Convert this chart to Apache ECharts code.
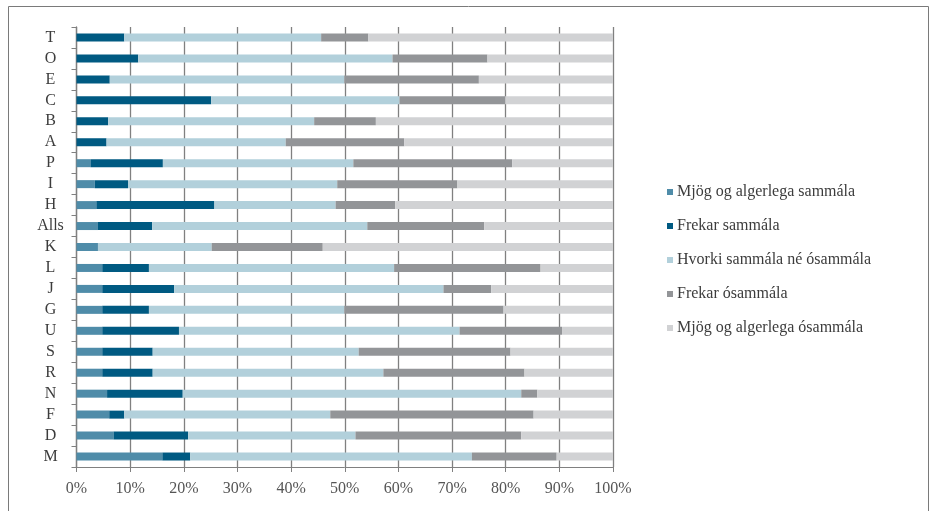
<!DOCTYPE html>
<html>
<head>
<meta charset="utf-8">
<script src="https://cdn.jsdelivr.net/npm/echarts@6/dist/echarts.min.js"></script>
<style>
  html, body { margin: 0; padding: 0; background: #fff; }
  #chart { width: 931px; height: 511px; }
</style>
</head>
<body>
<div id="chart"></div>
<script>
// Categories, listed top to bottom
const categories = ['T', 'O', 'E', 'C', 'B', 'A', 'P', 'I', 'H', 'Alls', 'K', 'L', 'J', 'G', 'U', 'S', 'R', 'N', 'F', 'D', 'M'];

const seriesNames = [
  'Mjög og algerlega sammála',
  'Frekar sammála',
  'Hvorki sammála né ósammála',
  'Frekar ósammála',
  'Mjög og algerlega ósammála'
];

// Shares (%) per category, same order as categories
const mjogSammala    = [0, 0, 0, 0, 0, 0, 2.6, 3.4, 3.7, 4.0, 4.0, 4.8, 4.8, 4.8, 4.8, 4.8, 4.8, 5.7, 6.1, 6.9, 16.0];
const frekarSammala  = [8.9, 11.5, 6.2, 25.1, 5.9, 5.6, 13.5, 6.2, 22.0, 10.1, 0, 8.7, 13.4, 8.7, 14.3, 9.4, 9.4, 14.1, 2.8, 13.9, 5.2];
const hvorki         = [36.7, 47.4, 43.7, 35.1, 38.4, 33.4, 35.5, 39.0, 22.6, 40.1, 21.2, 45.7, 50.2, 36.4, 52.3, 38.4, 43.0, 63.1, 38.4, 31.2, 52.5];
const frekarOsammala = [8.8, 17.7, 25.1, 19.7, 11.5, 22.1, 29.6, 22.4, 11.1, 21.8, 20.7, 27.3, 8.9, 29.7, 19.1, 28.3, 26.3, 3.0, 37.9, 30.9, 15.8];
const mjogOsammala   = [45.6, 23.4, 25.0, 20.1, 44.2, 38.9, 18.8, 29.0, 40.6, 24.0, 54.1, 13.5, 22.7, 20.4, 9.5, 19.1, 16.5, 14.1, 14.8, 17.1, 10.5];

const xTicks = [0, 10, 20, 30, 40, 50, 60, 70, 80, 90, 100];

const valueSets = [mjogSammala, frekarSammala, hvorki, frekarOsammala, mjogOsammala];
const colors = ['#4f8ca9', '#005a82', '#b2d0db', '#939598', '#d1d2d4'];

const FONT = "'Liberation Serif', 'Times New Roman', serif";
const GRID_COLOR = '#808080';

const chart = echarts.init(document.getElementById('chart'), null, { renderer: 'canvas' });

chart.setOption({
  animation: false,
  backgroundColor: '#ffffff',
  color: colors,
  graphic: [{
    type: 'rect',
    shape: { x: 8.5, y: 6.5, width: 920, height: 520 },
    style: { fill: 'none', stroke: '#7a7a7a', lineWidth: 1 },
    silent: true
  }],
  grid: { left: 76.5, right: 318, top: 27, bottom: 44, containLabel: false },
  legend: {
    orient: 'vertical',
    left: 662,
    top: 179,
    itemWidth: 6,
    itemHeight: 6,
    itemGap: 18,
    icon: 'rect',
    data: seriesNames,
    textStyle: { fontFamily: FONT, fontSize: 16, color: '#3c3c3c', padding: [0, 0, 0, -1] }
  },
  xAxis: {
    type: 'value',
    min: xTicks[0],
    max: xTicks[xTicks.length - 1],
    interval: 10,
    axisLine: { show: true, lineStyle: { color: GRID_COLOR, width: 1 } },
    axisTick: { show: true, length: 5, lineStyle: { color: GRID_COLOR } },
    splitLine: { show: true, lineStyle: { color: GRID_COLOR, width: 1.3 } },
    axisLabel: {
      formatter: v => v + '%',
      fontFamily: FONT,
      fontSize: 16,
      color: '#555555',
      margin: 14
    }
  },
  yAxis: {
    type: 'category',
    data: categories,
    inverse: true,
    axisLine: { show: true, lineStyle: { color: GRID_COLOR, width: 1.3 } },
    axisTick: { show: true, length: 5, lineStyle: { color: GRID_COLOR } },
    axisLabel: {
      fontFamily: FONT,
      fontSize: 16,
      color: '#3c3c3c',
      align: 'center',
      margin: 26
    }
  },
  series: seriesNames.map((name, i) => ({
    name: name,
    type: 'bar',
    stack: 'total',
    barWidth: 8,
    data: valueSets[i],
    itemStyle: { color: colors[i] }
  }))
});
</script>
</body>
</html>
